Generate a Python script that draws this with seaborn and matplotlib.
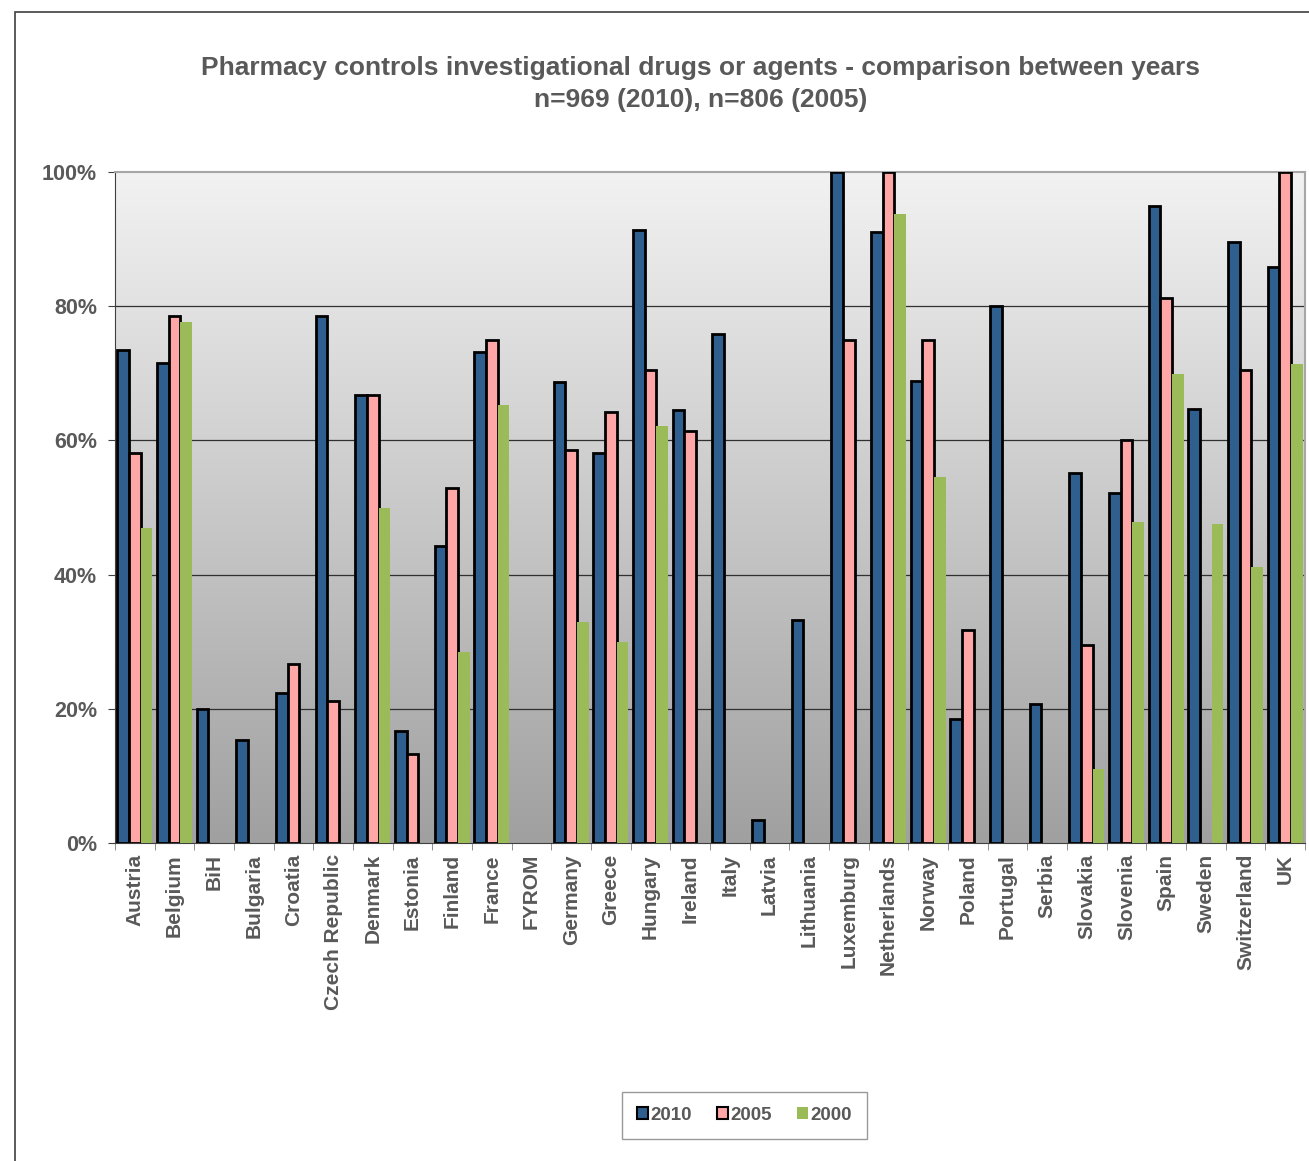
import numpy as np
import pandas as pd
import matplotlib
matplotlib.use("Agg")
import matplotlib.pyplot as plt
import seaborn as sns
from matplotlib.patches import Patch, Rectangle
from matplotlib.ticker import FuncFormatter, FixedLocator

# Datos (porcentaje, None = sin dato)
countries = ["Austria", "Belgium", "BiH", "Bulgaria", "Croatia", "Czech Republic",
             "Denmark", "Estonia", "Finland", "France", "FYROM", "Germany", "Greece",
             "Hungary", "Ireland", "Italy", "Latvia", "Lithuania", "Luxemburg",
             "Netherlands", "Norway", "Poland", "Portugal", "Serbia", "Slovakia",
             "Slovenia", "Spain", "Sweden", "Switzerland", "UK"]
years = ["2010", "2005", "2000"]

v2010 = [73.5, 71.5, 20.0, 15.3, 22.3, 78.6, 66.7, 16.7, 44.2, 73.1, None, 68.7, 58.1,
         91.4, 64.5, 75.9, 3.5, 33.3, 100.0, 91.0, 68.8, 18.5, 80.0, 20.7, 55.2,
         52.2, 95.0, 64.7, 89.5, 85.9]
v2005 = [58.1, 78.6, None, None, 26.7, 21.1, 66.7, 13.3, 52.9, 75.0, None, 58.6, 64.3,
         70.5, 61.4, None, None, None, 75.0, 100.0, 75.0, 31.8, None, None, 29.5,
         60.0, 81.2, None, 70.5, 100.0]
v2000 = [47.0, 77.7, None, None, None, None, 50.0, None, 28.5, 65.3, None, 32.9, 29.9,
         62.1, None, None, None, None, None, 93.7, 54.5, None, None, None, 11.1,
         47.9, 69.9, 47.6, 41.1, 71.4]

colors = {"2010": "#2E5F8E", "2005": "#FFA6A6", "2000": "#9BBB59"}
text_col = "#595959"

rows = []
for year, vals in zip(years, [v2010, v2005, v2000]):
    for c, v in zip(countries, vals):
        if v is not None:
            rows.append({"Country": c, "Year": year, "Value": v})
df = pd.DataFrame(rows)

sns.set_style("white")
plt.rcParams["font.family"] = ["Liberation Sans", "DejaVu Sans"]
plt.rcParams["font.weight"] = "bold"

fig = plt.figure(figsize=(13.09, 11.61), dpi=100)
ax = fig.add_axes([115 / 1309, 1 - 843 / 1161, 1190 / 1309, 671 / 1161])

# Fondo con degradado como en Excel
grad = np.linspace(0, 1, 256).reshape(-1, 1)
cmap = matplotlib.colors.LinearSegmentedColormap.from_list("g", ["#F2F2F2", "#A0A0A0"])
ax.imshow(grad, aspect="auto", cmap=cmap, extent=[0, 1, 0, 1],
          transform=ax.transAxes, zorder=0)

sns.barplot(data=df, x="Country", y="Value", hue="Year", order=countries,
            hue_order=years, palette=colors, width=0.876, saturation=1,
            ax=ax, legend=False, zorder=3)

for year, cont in zip(years, ax.containers):
    for bar in cont:
        if year == "2000":
            bar.set_edgecolor("none")
        else:
            bar.set_edgecolor("black")
            bar.set_linewidth(2)

ax.set_xlim(-0.5, len(countries) - 0.5)
ax.set_ylim(0, 100)
ax.set_yticks([0, 20, 40, 60, 80, 100])
ax.yaxis.set_major_formatter(FuncFormatter(lambda v, p: f"{v:.0f}%"))
for y in [20, 40, 60, 80]:
    ax.axhline(y, color="#303030", lw=0.9, zorder=1)

ax.set_xlabel("")
ax.set_ylabel("")
ax.tick_params(axis="x", which="major", length=0, pad=8, labelrotation=90,
               labelsize=15, labelcolor=text_col)
ax.xaxis.set_minor_locator(FixedLocator(np.arange(-0.5, len(countries), 1)))
ax.tick_params(axis="x", which="minor", length=5, color="#808080", direction="out",
               bottom=True)
ax.tick_params(axis="y", length=5, color="#404040", direction="out", left=True,
               labelsize=15.5, labelcolor=text_col, pad=8)
for lab in ax.get_xticklabels() + ax.get_yticklabels():
    lab.set_fontweight("bold")

for side in ["top", "right"]:
    ax.spines[side].set_color("#A6A6A6")
    ax.spines[side].set_linewidth(1.5)
ax.spines["left"].set_color("#404040")
ax.spines["bottom"].set_color("#404040")

fig.text(0.535, 1 - 68 / 1161, "Pharmacy controls investigational drugs or agents - comparison between years",
         ha="center", va="center", fontsize=19, fontweight="bold", color=text_col)
fig.text(0.535, 1 - 100 / 1161, "n=969 (2010), n=806 (2005)",
         ha="center", va="center", fontsize=19, fontweight="bold", color=text_col)

# Marco exterior del gráfico
fig.patches.append(Rectangle((15 / 1309, -0.5), 2, 1.5 - 12 / 1161, transform=fig.transFigure,
                             fill=False, edgecolor="#404040", lw=1.2))

handles = [Patch(facecolor=colors["2010"], edgecolor="black", lw=1.5, label="2010"),
           Patch(facecolor=colors["2005"], edgecolor="black", lw=1.5, label="2005"),
           Patch(facecolor=colors["2000"], edgecolor="none", label="2000")]
leg = fig.legend(handles=handles, loc="center", bbox_to_anchor=(744.5 / 1309, 1 - 1115 / 1161),
                 ncol=3, frameon=True, fancybox=False, edgecolor="#808080",
                 handlelength=0.6, handleheight=0.6, handletextpad=0.15, columnspacing=1.3,
                 borderpad=0.8, prop={"size": 13.5, "weight": "bold"})
for t in leg.get_texts():
    t.set_color(text_col)

plt.savefig("out.png", dpi=100)
